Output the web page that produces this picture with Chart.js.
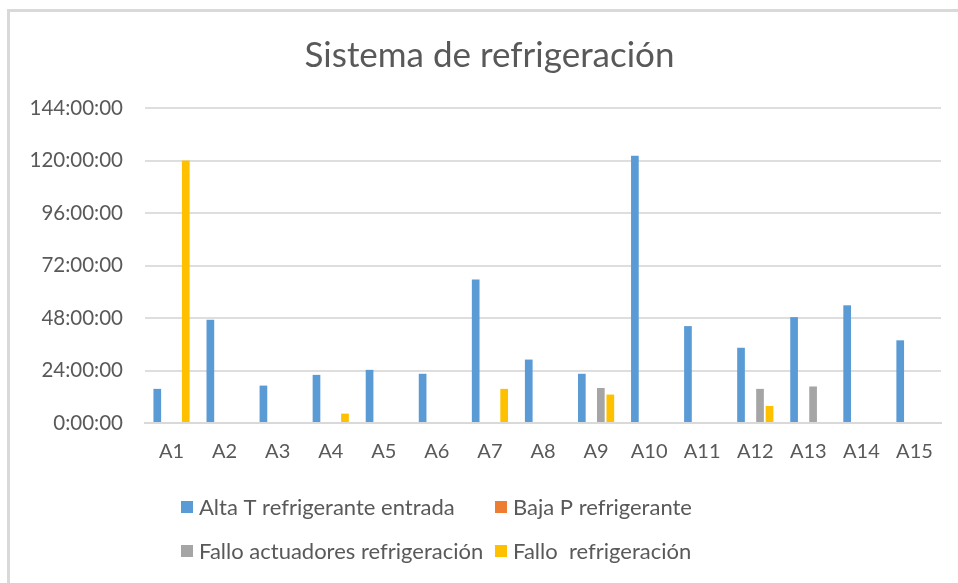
<!DOCTYPE html>
<html><head><meta charset="utf-8">
<script src="https://cdn.jsdelivr.net/npm/chart.js@4.4.1/dist/chart.umd.min.js"></script>
<style>
html,body{margin:0;padding:0;background:#fff;overflow:hidden;}
#frame{position:absolute;left:7px;top:9px;width:1000px;height:700px;border-left:3px solid #d9d9d9;border-top:3px solid #d9d9d9;}
#wrap{position:absolute;left:0;top:0;width:958px;height:583px;}
</style></head><body>
<div id="frame"></div>
<div id="wrap"><canvas id="c" width="958" height="583"></canvas></div>
<script>
const chartTitle = 'Sistema de refrigeración';
const categories = ['A1','A2','A3','A4','A5','A6','A7','A8','A9','A10','A11','A12','A13','A14','A15'];
const seriesNames = ['Alta T refrigerante entrada','Baja P refrigerante','Fallo actuadores refrigeración','Fallo  refrigeración'];
// values in hours
const altaT    = [15.6, 47.2, 17.1, 22.0, 24.3, 22.5, 65.6, 29.0, 22.5, 122.2, 44.3, 34.4, 48.4, 53.8, 37.8];
const bajaP    = [0, 0, 0, 0, 0, 0, 0, 0, 0, 0, 0, 0, 0, 0, 0];
const falloAct = [0, 0, 0, 0, 0, 0, 0, 0, 16.0, 0, 0, 15.6, 16.7, 0, 0];
const falloRef = [120, 0, 0, 4.3, 0, 0, 15.6, 0, 13.0, 0, 0, 7.8, 0, 0, 0];
const yTickValues = [0, 24, 48, 72, 96, 120, 144];
const yTickLabels = ['0:00:00','24:00:00','48:00:00','72:00:00','96:00:00','120:00:00','144:00:00'];
const colors = ['#5B9BD5', '#ED7D31', '#A5A5A5', '#FFC000'];

const textColor = '#595959';
const FONT = 'Lato';

const gridLegend = {
  id: 'gridLegend',
  afterLayout(chart) {
    // Excel centres the title over the whole chart frame
    if (chart.titleBlock) { chart.titleBlock.left = 38; }
  },
  afterDraw(chart) {
    const ctx = chart.ctx;
    const cols = [181, 495];
    const rows = [507, 551];
    ctx.save();
    ctx.font = '22px ' + FONT;
    ctx.textBaseline = 'middle';
    ctx.textAlign = 'left';
    chart.data.datasets.forEach((ds, i) => {
      const x = cols[i % 2];
      const y = rows[Math.floor(i / 2)];
      ctx.fillStyle = ds.backgroundColor;
      ctx.fillRect(x, y - 6, 12, 12);
      ctx.fillStyle = textColor;
      ctx.fillText(ds.label, x + 18, y + 1);
    });
    ctx.restore();
  }
};

const seriesData = [altaT, bajaP, falloAct, falloRef];

new Chart(document.getElementById('c'), {
  type: 'bar',
  data: {
    labels: categories,
    datasets: seriesNames.map((name, i) => ({
      label: name,
      data: seriesData[i],
      backgroundColor: colors[i],
      borderWidth: 0,
      categoryPercentage: 0.716,
      barPercentage: 0.81
    }))
  },
  options: {
    responsive: false,
    animation: false,
    layout: { padding: { top: 12, left: 20, right: 17, bottom: 102 } },
    plugins: {
      legend: { display: false },
      tooltip: { enabled: false },
      title: {
        display: true,
        text: chartTitle,
        color: textColor,
        font: { family: FONT, size: 35, weight: 'normal' },
        padding: { top: 23, bottom: 31 }
      }
    },
    scales: {
      x: {
        grid: { display: false, drawTicks: false },
        border: { display: true, color: '#d9d9d9', width: 2 },
        ticks: { color: textColor, font: { family: FONT, size: 20 }, padding: 17 }
      },
      y: {
        min: 0, max: 144,
        afterFit: (scale) => { scale.width = 125; },
        afterBuildTicks: (scale) => { scale.ticks = yTickValues.map(v => ({ value: v })); },
        grid: { color: '#dedede', lineWidth: 2, drawTicks: false },
        border: { display: false },
        ticks: {
          color: textColor,
          font: { family: FONT, size: 20.5 },
          padding: 22,
          callback: (v) => yTickLabels[yTickValues.indexOf(v)]
        }
      }
    }
  },
  plugins: [gridLegend]
});
</script>
</body></html>
